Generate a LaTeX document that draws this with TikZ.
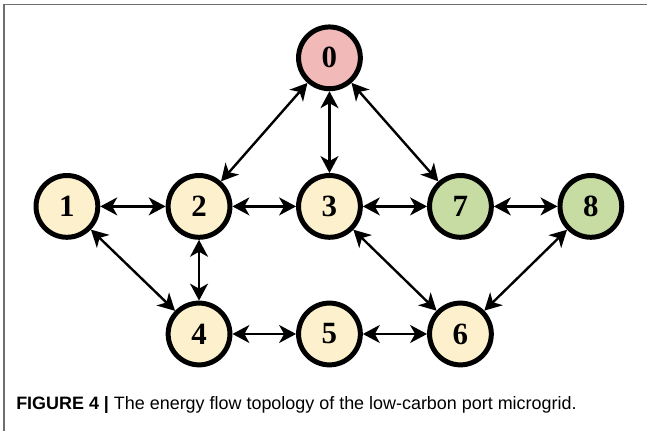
\documentclass[tikz,border=0pt]{standalone}
\usepackage{fontspec}
\setmainfont{Liberation Serif}
\setsansfont{Liberation Sans}
\usetikzlibrary{arrows.meta, positioning}

\definecolor{loadfill}{HTML}{FDF0CC}
\definecolor{gridfill}{HTML}{F2B9B9}
\definecolor{genfill}{HTML}{C6DCA2}
\definecolor{framegray}{HTML}{6E6E6E}

\begin{document}
\begin{tikzpicture}[
    busnode/.style={circle, draw=black, line width=2.5pt, minimum size=31pt, inner sep=0pt, font=\fontsize{15.5}{18}\selectfont\bfseries, fill=loadfill},
    gridnode/.style={busnode, fill=gridfill},
    gennode/.style={busnode, fill=genfill},
    flowarr/.style={{Stealth[length=8.5pt, width=9pt, inset=2.5pt]}-{Stealth[length=8.5pt, width=9pt, inset=2.5pt]}, line width=1.2pt, color=black},
    node distance=2.3cm and 2.3cm, on grid
]
\useasboundingbox (0,0) rectangle (11.41cm,-7.6cm);
% frame of the figure panel
\coordinate (frametl) at (0.07cm,-0.08cm);
\draw[framegray, line width=0.8pt] (frametl |- 0,-7.6cm) -- (frametl) -- (11.41cm,-0.08cm);

\node[busnode] (n1) at (1.18cm,-3.64cm) {1};
\node[busnode, right=2.33cm of n1] (n2) {2};
\node[busnode, right=2.3cm of n2] (n3) {3};
\node[gennode, right=2.31cm of n3] (n7) {7};
\node[gennode, right=2.3cm of n7] (n8) {8};
\node[gridnode, above=2.62cm of n3] (n0) {0};
\node[busnode, below=2.25cm of n2] (n4) {4};
\node[busnode, below=2.25cm of n3] (n5) {5};
\node[busnode, below=2.25cm of n7] (n6) {6};

\draw[flowarr] (n0) -- (n2);
\draw[flowarr] (n0) -- (n3);
\draw[flowarr] (n0) -- (n7);
\draw[flowarr] (n1) -- (n2);
\draw[flowarr] (n2) -- (n3);
\draw[flowarr] (n3) -- (n7);
\draw[flowarr] (n7) -- (n8);
\draw[flowarr] (n1) -- (n4);
\draw[flowarr] (n2) -- (n4);
\draw[flowarr] (n3) -- (n6);
\draw[flowarr] (n8) -- (n6);
\draw[flowarr] (n4) -- (n5);
\draw[flowarr] (n5) -- (n6);

\node[anchor=base west, inner sep=0pt, font=\sffamily\fontsize{9}{11}\selectfont] (caption) at (0.28cm,-7.22cm)
    {\textbf{FIGURE 4 |} The energy flow topology of the low-carbon port microgrid.};
\end{tikzpicture}
\end{document}
